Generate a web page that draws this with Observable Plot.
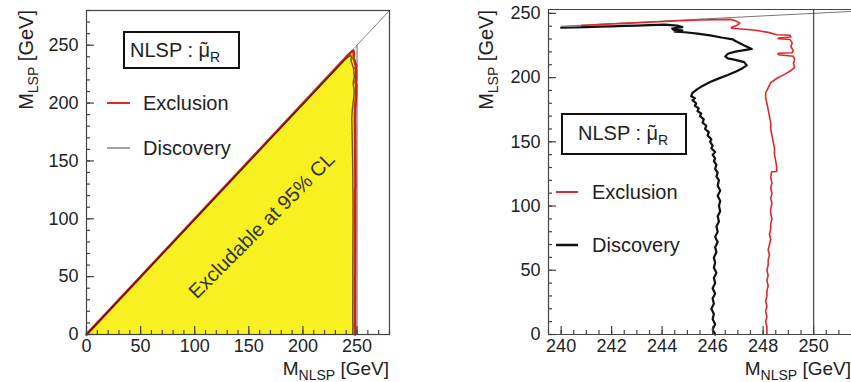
<!DOCTYPE html>
<html><head><meta charset="utf-8">
<script src="https://cdn.jsdelivr.net/npm/d3@7"></script>
<script src="https://cdn.jsdelivr.net/npm/@observablehq/plot@0.6"></script>
<style>
body{margin:0;background:#fff;overflow:hidden;width:851px;height:382px;position:relative;font-family:"Liberation Sans",Arial,sans-serif;}
#left{position:absolute;left:0;top:0;}
#right{position:absolute;left:430px;top:0;}
svg{overflow:visible}
</style></head><body>
<div id="left"></div><div id="right"></div>
<script>
// ---- data (GeV) ----
const discovery = [[240.0,238.8],[240.5,239.0],[241,239.3],[241.5,239.6],[242,239.9],[242.5,240.2],[243,240.5],[243.5,240.8],[244.1,241.3],[244.6,240.5],[244.8,239.3],[244.4,238.2],[244.45,237.2],[244.8,236.8],[244.5,235.8],[244.9,235.3],[245.4,234.2],[245.9,232.8],[246.4,231],[246.8,229.8],[246.9,228.5],[247.1,226.5],[247.3,224.5],[247.55,222.3],[247.2,221.2],[246.9,220.2],[246.6,218.6],[246.5,216.5],[246.6,215],[246.9,213.8],[247.25,212],[247.35,209.5],[247.2,207.5],[246.95,205],[246.6,202],[246.2,199],[245.9,196.5],[245.6,193.5],[245.4,191],[245.2,188],[245.15,185.5],[245.3,184],[245.2,182.5],[245.35,180],[245.3,178],[245.45,176],[245.4,174],[245.55,172],[245.5,170],[245.65,167.5],[245.6,165],[245.75,162.5],[245.7,160],[245.85,157.5],[245.8,155],[245.95,152],[245.9,150],[246.0,147],[245.95,145],[246.1,142],[246.0,140],[246.1,137],[246.05,135],[246.15,132],[246.1,129],[246.2,126],[246.15,123],[246.25,120],[246.2,116],[246.3,112],[246.2,108],[246.3,104],[246.25,100],[246.3,96],[246.2,92],[246.25,88],[246.15,84],[246.2,80],[246.1,76],[246.2,72],[246.1,68],[246.15,64],[246.05,60],[246.1,56],[246.05,52],[246.15,48],[246.05,44],[246.1,40],[246.0,36],[246.1,32],[246.0,28],[246.05,24],[245.95,20],[246.05,16],[246.0,12],[246.1,8],[246.0,4],[246.1,0]];
const exclusion = [[240.8,240.6],[241.5,241.3],[242.5,242.2],[243.5,243.1],[244.5,244.0],[245.5,244.8],[246.7,245.3],[246.9,244.2],[247.08,242.4],[246.95,240.5],[246.75,239.2],[246.75,238.4],[247.15,237.8],[247.7,236.8],[248.2,235.2],[248.54,233.4],[249.07,232.9],[249.1,231.6],[248.6,230.8],[248.6,230.2],[249.07,229.6],[249.15,227],[249.1,224],[249.2,221],[249.14,219.3],[248.6,219.0],[248.6,217.8],[249.2,216.6],[249.25,214],[249.2,211],[249.25,208],[249.1,205.5],[248.85,202.5],[248.55,199.5],[248.3,196],[248.2,192],[248.1,188],[248.1,184],[248.15,180],[248.2,175],[248.25,170],[248.3,165],[248.3,160],[248.35,155],[248.4,150],[248.45,145],[248.45,140],[248.5,135],[248.54,130],[248.54,127],[248.33,126.5],[248.3,122],[248.35,118],[248.3,114],[248.35,110],[248.3,106],[248.35,102],[248.3,98],[248.3,94],[248.35,90],[248.3,86],[248.3,82],[248.25,78],[248.3,74],[248.25,70],[248.2,66],[248.25,62],[248.2,58],[248.2,54],[248.15,50],[248.2,46],[248.15,42],[248.2,38],[248.15,34],[248.15,30],[248.1,26],[248.15,22],[248.1,18],[248.15,14],[248.1,10],[248.15,6],[248.15,0]];
const origin = [[0, 0]];
const kinematicLimit = [250];
const diagonalLeft = [0, 280];
const diagonalRight = [240, 253];
const leftMajorTicks = [0, 50, 100, 150, 200, 250];
const rightXMajorTicks = [240, 242, 244, 246, 248, 250];
const rightYMajorTicks = [0, 50, 100, 150, 200, 250];
const regionLabel = [{x: 162, y: 94, text: "Excludable at 95% CL"}];
const legendLabels = ["Exclusion", "Discovery"];

const FONT = '"Liberation Sans", Arial, Helvetica, sans-serif';
const RED = "#e0282a";
const AXIS = "#444";

// ROOT-style inward ticks + outside labels
function ticks(xDom, yDom, xMinor, yMinor, xMajor, yMajor) {
  const tx = (arr, len) => Plot.ruleX(arr, {x: d => d, y1: yDom[0], y2: yDom[0], insetBottom: len, stroke: AXIS, strokeWidth: 1.2});
  const ty = (arr, len) => Plot.ruleY(arr, {y: d => d, x1: xDom[0], x2: xDom[0], insetLeft: len, stroke: AXIS, strokeWidth: 1.2});
  return [
    tx(xMinor, 4), tx(xMajor, 8), ty(yMinor, 4), ty(yMajor, 8),
    Plot.axisX(xMajor, {tickSize: 0, tickPadding: 5, label: null, fontSize: 18, fill: "#222"}),
    Plot.axisY(yMajor, {tickSize: 0, tickPadding: 8, label: null, fontSize: 18, fill: "#222"})
  ];
}

// ---- left panel ----
const leftX = [0, 280], leftY = [0, 280];
const leftPlot = Plot.plot({
  width: 420, height: 382,
  marginLeft: 86, marginRight: 31, marginTop: 10, marginBottom: 48,
  x: {domain: leftX}, y: {domain: leftY},
  style: {fontFamily: FONT, fontSize: "18px", color: "#222", background: "transparent"},
  marks: [
    Plot.line([...origin, ...exclusion], {x: d => d[0], y: d => d[1], fill: "#f8f020", stroke: "none"}),
    Plot.line(diagonalLeft, {x: d => d, y: d => d, stroke: "#888", strokeWidth: 1}),
    Plot.ruleX(kinematicLimit, {y1: 0, y2: 250, stroke: "#666", strokeWidth: 1}),
    Plot.line([...origin, ...exclusion], {x: d => d[0], y: d => d[1], stroke: "#c8261c", strokeWidth: 2.6}),
    Plot.line([...origin, ...discovery], {x: d => d[0], y: d => d[1], stroke: "#2a1a08", strokeWidth: 1.4, strokeOpacity: 0.7}),
    Plot.text(regionLabel, {x: "x", y: "y", text: "text", rotate: -45, fontSize: 20, fill: "#333"}),
    Plot.frame({stroke: AXIS, strokeWidth: 1.2}),
    ...ticks(leftX, leftY, d3.range(0, 281, 10), d3.range(0, 281, 10), leftMajorTicks, leftMajorTicks)
  ]
});
document.getElementById("left").append(leftPlot);

// ---- right panel ----
const rightX = [239.5, 251.5], rightY = [0, 253];
const rightPlot = Plot.plot({
  width: 421, height: 382,
  marginLeft: 118, marginRight: 0, marginTop: 9, marginBottom: 48,
  x: {domain: rightX}, y: {domain: rightY},
  style: {fontFamily: FONT, fontSize: "18px", color: "#222", background: "transparent"},
  marks: [
    Plot.line(diagonalRight, {x: d => d, y: d => d, stroke: "#777", strokeWidth: 1, clip: true}),
    Plot.ruleX(kinematicLimit, {stroke: AXIS, strokeWidth: 1.2}),
    Plot.line(exclusion, {x: d => d[0], y: d => d[1], stroke: RED, strokeWidth: 1.6}),
    Plot.line(discovery, {x: d => d[0], y: d => d[1], stroke: "#111", strokeWidth: 2.2}),
    Plot.ruleY([rightY[1]], {stroke: AXIS, strokeWidth: 1.2}),
    Plot.ruleY([rightY[0]], {stroke: AXIS, strokeWidth: 1.2}),
    Plot.ruleX([rightX[0]], {stroke: AXIS, strokeWidth: 1.2}),
    ...ticks(rightX, rightY, d3.range(239.5, 251.6, 0.5), d3.range(0, 251, 10), rightXMajorTicks, rightYMajorTicks)
  ]
});
document.getElementById("right").append(rightPlot);

// ---- annotations (titles, legends) ----
function txt(sel) {
  return sel.append("text").attr("text-anchor", "start").attr("font-family", FONT).attr("fill", "#222");
}
function addTitles(svg, xRight, yTitleX) {
  const s = d3.select(svg);
  const xt = txt(s).attr("x", xRight).attr("y", 375).attr("text-anchor", "end").attr("font-size", 19);
  xt.append("tspan").text("M");
  xt.append("tspan").attr("font-size", 14).attr("dy", 5).text("NLSP");
  xt.append("tspan").attr("dy", -5).text(" [GeV]");
  const yt = txt(s).attr("transform", `translate(${yTitleX},10) rotate(-90)`).attr("text-anchor", "end").attr("font-size", 20);
  yt.append("tspan").text("M");
  yt.append("tspan").attr("font-size", 14).attr("dy", 5).text("LSP");
  yt.append("tspan").attr("dy", -5).text(" [GeV]");
}
function addLegend(svg, box, entries) {
  const s = d3.select(svg);
  s.append("rect").attr("x", box.x).attr("y", box.y).attr("width", box.w).attr("height", box.h)
    .attr("fill", "#fff").attr("stroke", "#111").attr("stroke-width", 2);
  const t = txt(s).attr("x", box.tx).attr("y", box.ty).attr("font-size", 20);
  t.append("tspan").text("NLSP : \u03BC");
  t.append("tspan").attr("dx", -9.3).attr("dy", -1).text("\u02DC");
  t.append("tspan").attr("font-size", 14).attr("dx", 2.6).attr("dy", 6).text("R");
  entries.forEach((e, i) => {
    s.append("line").attr("x1", e.x1).attr("x2", e.x2).attr("y1", e.y).attr("y2", e.y)
      .attr("stroke", e.color).attr("stroke-width", e.w);
    txt(s).attr("x", e.tx).attr("y", e.y).attr("dy", "0.35em").attr("font-size", 20).text(legendLabels[i]);
  });
}
addTitles(leftPlot, 389, 33);
addTitles(rightPlot, 421, 63);
addLegend(leftPlot, {x: 124, y: 32, w: 115, h: 36, tx: 130, ty: 57}, [
  {x1: 107, x2: 130, y: 103, color: RED, w: 2, tx: 143},
  {x1: 107, x2: 130, y: 148, color: "#666", w: 1.2, tx: 143}
]);
addLegend(rightPlot, {x: 132, y: 114, w: 124, h: 40, tx: 148, ty: 140}, [
  {x1: 126, x2: 148, y: 192, color: RED, w: 2, tx: 162},
  {x1: 126, x2: 148, y: 245, color: "#111", w: 2.5, tx: 162}
]);
</script>
</body></html>
